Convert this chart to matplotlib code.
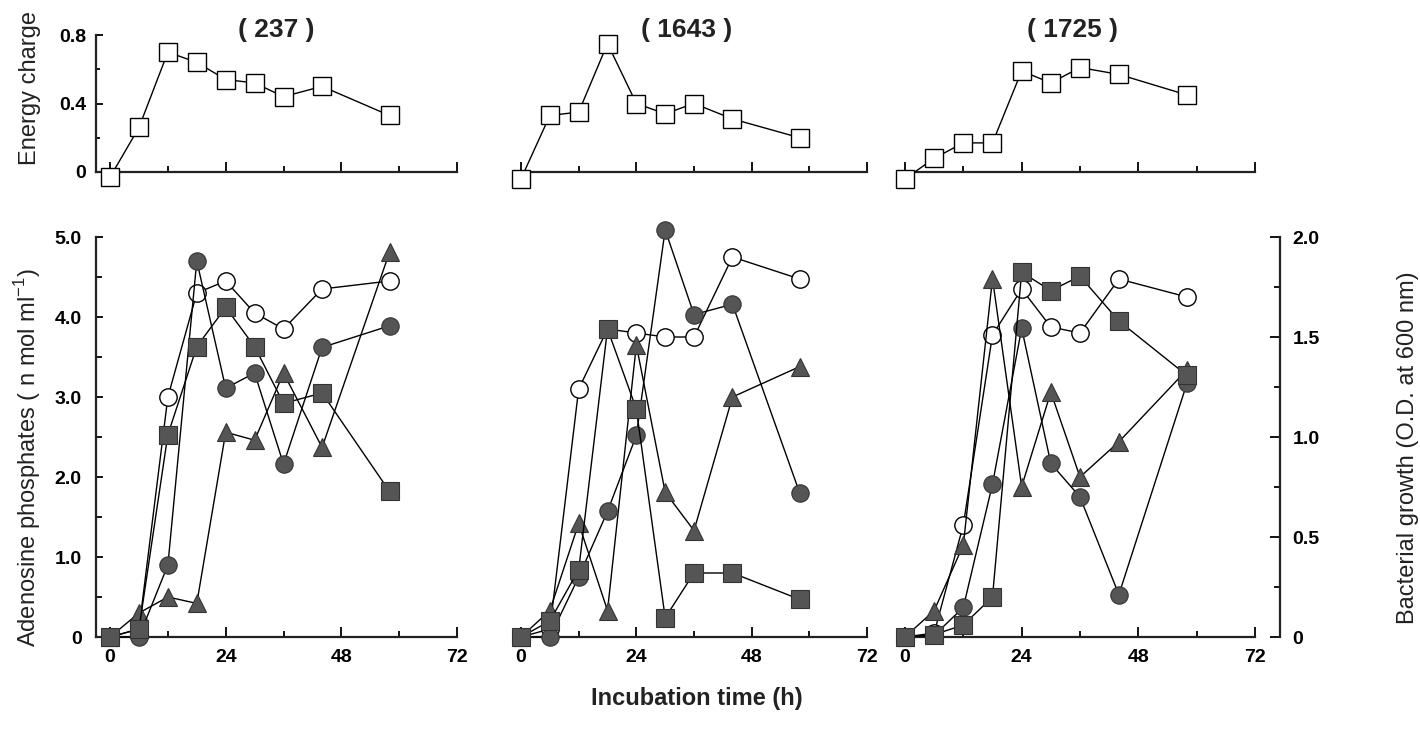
import numpy as np
import matplotlib
matplotlib.use('Agg')
import matplotlib.pyplot as plt
from matplotlib.ticker import FixedLocator, FuncFormatter

plt.rcParams['font.family'] = ['Liberation Sans', 'DejaVu Sans']

# sampling times (h)
times = [0, 6, 12, 18, 24, 30, 36, 44, 58]
strains = ['237', '1643', '1725']

# energy charge (open squares, top row)
ec_237 = [-0.03, 0.26, 0.70, 0.64, 0.54, 0.52, 0.44, 0.50, 0.33]
ec_1643 = [-0.04, 0.33, 0.35, 0.75, 0.40, 0.34, 0.40, 0.31, 0.20]
ec_1725 = [-0.04, 0.08, 0.17, 0.17, 0.59, 0.52, 0.61, 0.57, 0.45]

# adenosine phosphates, n mol/ml (filled markers)
circle_237 = [0, 0.0, 0.90, 4.70, 3.11, 3.30, 2.16, 3.62, 3.89]
circle_1643 = [0, 0.0, 0.75, 1.57, 2.52, 5.09, 4.03, 4.16, 1.80]
circle_1725 = [0, 0.02, 0.37, 1.91, 3.86, 2.17, 1.75, 0.53, 3.17]

square_237 = [0, 0.10, 2.53, 3.63, 4.12, 3.63, 2.92, 3.05, 1.82]
square_1643 = [0, 0.20, 0.84, 3.85, 2.85, 0.24, 0.80, 0.80, 0.47]
square_1725 = [0, 0.03, 0.15, 0.50, 4.56, 4.33, 4.51, 3.95, 3.27]

triangle_237 = [0, 0.30, 0.50, 0.42, 2.56, 2.46, 3.30, 2.37, 4.81]
triangle_1643 = [0, 0.33, 1.42, 0.33, 3.65, 1.81, 1.33, 3.00, 3.38]
triangle_1725 = [0, 0.33, 1.15, 4.48, 1.88, 3.06, 2.00, 2.44, 3.34]

# bacterial growth, O.D. at 600 nm (open circles, right axis)
od_237 = [0, 0.04, 1.20, 1.72, 1.78, 1.62, 1.54, 1.74, 1.78]
od_1643 = [0, 0.04, 1.24, 1.54, 1.52, 1.50, 1.50, 1.90, 1.79]
od_1725 = [0, 0.02, 0.56, 1.51, 1.74, 1.55, 1.52, 1.79, 1.70]

ec = [ec_237, ec_1643, ec_1725]
circles = [circle_237, circle_1643, circle_1725]
squares = [square_237, square_1643, square_1725]
triangles = [triangle_237, triangle_1643, triangle_1725]
ods = [od_237, od_1643, od_1725]

W, H = 1420, 729
fig = plt.figure(figsize=(W / 100, H / 100), dpi=100)


def px_axes(x0, y_top, x1, y_bot):
    return fig.add_axes([x0 / W, 1 - y_bot / H, (x1 - x0) / W, (y_bot - y_top) / H])


# pixel extents of each column (x=-3 .. x=72)
cols = [(95.6, 457), (506.6, 867), (890.4, 1255)]
dark = '#555555'
lw = 1.0
spine_c = '#222222'


def fmt(v, p):
    return '0' if abs(v) < 1e-9 else '%.1f' % v


for i in range(3):
    x0, x1 = cols[i]

    # ---- top: energy charge ----
    at = px_axes(x0, 35, x1, 172)
    at.plot(times, ec[i], '-', color='k', lw=lw, marker='s', ms=13.5,
            mfc='white', mec='k', mew=1.0, clip_on=False, zorder=3)
    at.set_xlim(-3, 72)
    at.set_ylim(0, 0.8)
    for s in ['top', 'right']:
        at.spines[s].set_visible(False)
    at.spines['bottom'].set_linewidth(1.6)
    at.spines['bottom'].set_color(spine_c)
    at.xaxis.set_major_locator(FixedLocator([0, 24, 48, 72]))
    at.xaxis.set_minor_locator(FixedLocator([12, 36, 60]))
    at.tick_params(axis='x', which='major', direction='in', length=7, width=1.3,
                   labelbottom=False)
    at.tick_params(axis='x', which='minor', direction='in', length=4, width=1.3)
    if i == 0:
        at.spines['left'].set_linewidth(1.6)
        at.spines['left'].set_color(spine_c)
        at.yaxis.set_major_locator(FixedLocator([0, 0.4, 0.8]))
        at.yaxis.set_minor_locator(FixedLocator([0.2, 0.6]))
        at.yaxis.set_major_formatter(FuncFormatter(fmt))
        at.tick_params(axis='y', which='major', direction='in', length=5, width=1.3,
                       labelsize=14, pad=7)
        at.tick_params(axis='y', which='minor', direction='in', length=3, width=1.3)
        for t in at.get_yticklabels():
            t.set_fontweight('bold')
    else:
        at.spines['left'].set_visible(False)
        at.spines['bottom'].set_bounds(0, 72)
        at.set_yticks([])
    at.text(34.5, 1.04, '( %s )' % strains[i], transform=at.get_xaxis_transform(),
            ha='center', va='center', fontsize=19, fontweight='bold', color='#222222')

    # ---- bottom: adenosine phosphates + growth ----
    ab = px_axes(x0, 237, x1, 637)
    ag = ab.twinx()
    ab.set_zorder(ag.get_zorder() + 1)
    ab.patch.set_visible(False)

    ag.plot(times, ods[i], '-', color='k', lw=lw, marker='o', ms=12.5,
            mfc='white', mec='k', mew=1.0, clip_on=False)
    ab.plot(times, triangles[i], '-', color='k', lw=lw, marker='^', ms=13.5,
            mfc=dark, mec='#333333', mew=0.8, clip_on=False, zorder=3)
    ab.plot(times, circles[i], '-', color='k', lw=lw, marker='o', ms=12.5,
            mfc=dark, mec='#333333', mew=0.8, clip_on=False, zorder=4)
    ab.plot(times, squares[i], '-', color='k', lw=lw, marker='s', ms=13.5,
            mfc=dark, mec='#333333', mew=0.8, clip_on=False, zorder=5)

    ab.set_xlim(-3, 72)
    ab.set_ylim(0, 5)
    ag.set_ylim(0, 2)
    for s in ['top', 'right']:
        ab.spines[s].set_visible(False)
    for s in ['top', 'left', 'bottom']:
        ag.spines[s].set_visible(False)
    ab.spines['bottom'].set_linewidth(1.6)
    ab.spines['bottom'].set_color(spine_c)
    ab.xaxis.set_major_locator(FixedLocator([0, 24, 48, 72]))
    ab.xaxis.set_minor_locator(FixedLocator([12, 36, 60]))
    ab.tick_params(axis='x', which='major', direction='in', length=7, width=1.3,
                   labelsize=14, pad=9)
    ab.tick_params(axis='x', which='minor', direction='in', length=4, width=1.3)
    for t in ab.get_xticklabels():
        t.set_fontweight('bold')

    if i == 0:
        ab.spines['left'].set_linewidth(1.6)
        ab.spines['left'].set_color(spine_c)
        ab.yaxis.set_major_locator(FixedLocator([0, 1, 2, 3, 4, 5]))
        ab.yaxis.set_minor_locator(FixedLocator([0.5, 1.5, 2.5, 3.5, 4.5]))
        ab.yaxis.set_major_formatter(FuncFormatter(fmt))
        ab.tick_params(axis='y', which='major', direction='in', length=5, width=1.3,
                       labelsize=14, pad=10)
        ab.tick_params(axis='y', which='minor', direction='in', length=4, width=1.3)
        for t in ab.get_yticklabels():
            t.set_fontweight('bold')
    else:
        ab.spines['left'].set_visible(False)
        ab.spines['bottom'].set_bounds(0, 72)
        ab.set_yticks([])

    if i == 2:
        ag.spines['right'].set_position(('outward', 18))
        ag.spines['right'].set_linewidth(1.6)
        ag.spines['right'].set_color(spine_c)
        ag.yaxis.set_major_locator(FixedLocator([0, 0.5, 1.0, 1.5, 2.0]))
        ag.yaxis.set_minor_locator(FixedLocator([0.25, 0.75, 1.25, 1.75]))
        ag.yaxis.set_major_formatter(FuncFormatter(fmt))
        ag.tick_params(axis='y', which='major', direction='in', length=7, width=1.3,
                       labelsize=14, pad=9)
        ag.tick_params(axis='y', which='minor', direction='in', length=4, width=1.3)
        for t in ag.get_yticklabels():
            t.set_fontweight('bold')
    else:
        ag.spines['right'].set_visible(False)
        ag.set_yticks([])

fig.text(30 / W, 1 - 88 / H, 'Energy charge', rotation=90, ha='center', va='center',
         fontsize=17, color='#222222')
fig.text(28 / W, 1 - 458 / H, r'Adenosine phosphates ( n mol ml$^{\mathregular{-1}}$)',
         rotation=90, ha='center', va='center', fontsize=17, color='#222222')
fig.text(1408 / W, 1 - 448 / H, 'Bacterial growth (O.D. at 600 nm)', rotation=90,
         ha='center', va='center', fontsize=17, color='#222222')
fig.text(697 / W, 1 - 699 / H, 'Incubation time (h)', ha='center', va='center',
         fontsize=17, fontweight='bold', color='#222222')

fig.savefig('out.png', dpi=100, facecolor='white')
